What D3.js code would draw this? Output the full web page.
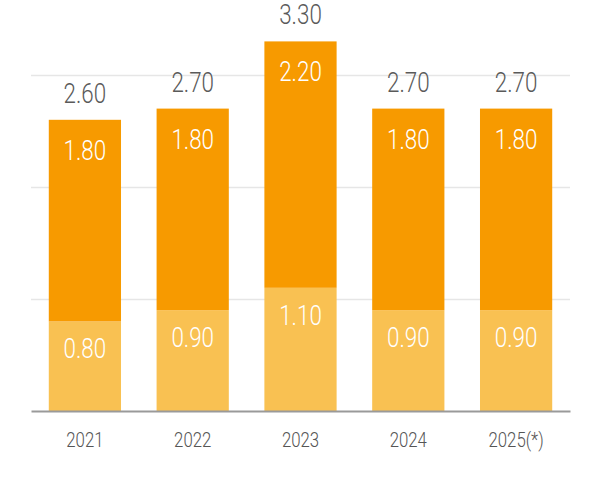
<!DOCTYPE html>
<html>
<head>
<meta charset="utf-8">
<script src="https://cdn.jsdelivr.net/npm/d3@7"></script>
<style>
  body { margin: 0; background: #fff; }
  text { font-family: Roboto, "Noto Sans", sans-serif; font-weight: 300; }
</style>
</head>
<body>
<div id="chart"></div>
<script>
const w = 600;
const h = 480;

const years = ["2021", "2022", "2023", "2024", "2025(*)"];
const lower = [0.8, 0.9, 1.1, 0.9, 0.9];
const upper = [1.8, 1.8, 2.2, 1.8, 1.8];
const gridTicks = [1, 2, 3];

const margin = { top: 0, left: 31, right: 30, bottom: 69 };
const baseY = h - margin.bottom;

const rows = years.map((y, i) => ({ year: y, lower: lower[i], upper: upper[i] }));
const series = d3.stack().keys(["lower", "upper"])(rows);

const x = d3.scaleBand()
  .domain(years)
  .range([margin.left, w - margin.right])
  .paddingInner(0.33)
  .paddingOuter(0.165);

const yScale = d3.scaleLinear()
  .domain([0, 1])
  .range([baseY, baseY - 112]);

const colors = { lower: "#f9c152", upper: "#f79a00" };
const squeeze = 0.8;

const svg = d3.select("#chart")
  .append("svg")
  .attr("width", w)
  .attr("height", h);

// gridlines
svg.append("g")
  .attr("transform", `translate(${margin.left},0)`)
  .call(d3.axisLeft(yScale).tickValues(gridTicks).tickSize(-(w - margin.left - margin.right)).tickFormat(""))
  .call((g) => g.select(".domain").remove())
  .call((g) => g.selectAll("line").attr("stroke", "#e6e6e6").attr("stroke-width", 1.5));

// bars
const layer = svg.selectAll("g.layer")
  .data(series)
  .enter()
  .append("g")
  .attr("class", "layer")
  .attr("fill", (d) => colors[d.key]);

layer.selectAll("rect")
  .data((d) => d)
  .enter()
  .append("rect")
  .attr("x", (d) => x(d.data.year))
  .attr("y", (d) => yScale(d[1]))
  .attr("width", x.bandwidth())
  .attr("height", (d) => yScale(d[0]) - yScale(d[1]));

// segment labels
series.forEach((s) => {
  const off = s.key === "upper" ? 40 : 37;
  svg.append("g")
    .selectAll("text")
    .data(s)
    .enter()
    .append("text")
    .attr("transform", (d) => `translate(${x(d.data.year) + x.bandwidth() / 2},${yScale(d[1]) + off}) scale(${squeeze},1)`)
    .attr("text-anchor", "middle")
    .attr("font-size", 28)
    .attr("fill", "#fff")
    .text((d) => d.data[s.key].toFixed(2));
});

// totals
svg.append("g")
  .selectAll("text")
  .data(rows)
  .enter()
  .append("text")
  .attr("transform", (d) => `translate(${x(d.year) + x.bandwidth() / 2},${yScale(d.lower + d.upper) - 17}) scale(${squeeze},1)`)
  .attr("text-anchor", "middle")
  .attr("font-size", 28)
  .attr("fill", "#5a5a5a")
  .text((d) => (d.lower + d.upper).toFixed(2));

// x axis
const xAxis = svg.append("g")
  .attr("transform", `translate(0,${baseY})`)
  .call(d3.axisBottom(x).tickSize(0).tickPadding(0));
xAxis.select(".domain").attr("stroke", "#9a9a9a").attr("stroke-width", 2);
xAxis.selectAll("text")
  .attr("font-size", 20)
  .attr("fill", "#555")
  .attr("dy", 0)
  .attr("y", 0)
  .attr("transform", `translate(0,36) scale(0.84,1)`);
</script>
</body>
</html>
